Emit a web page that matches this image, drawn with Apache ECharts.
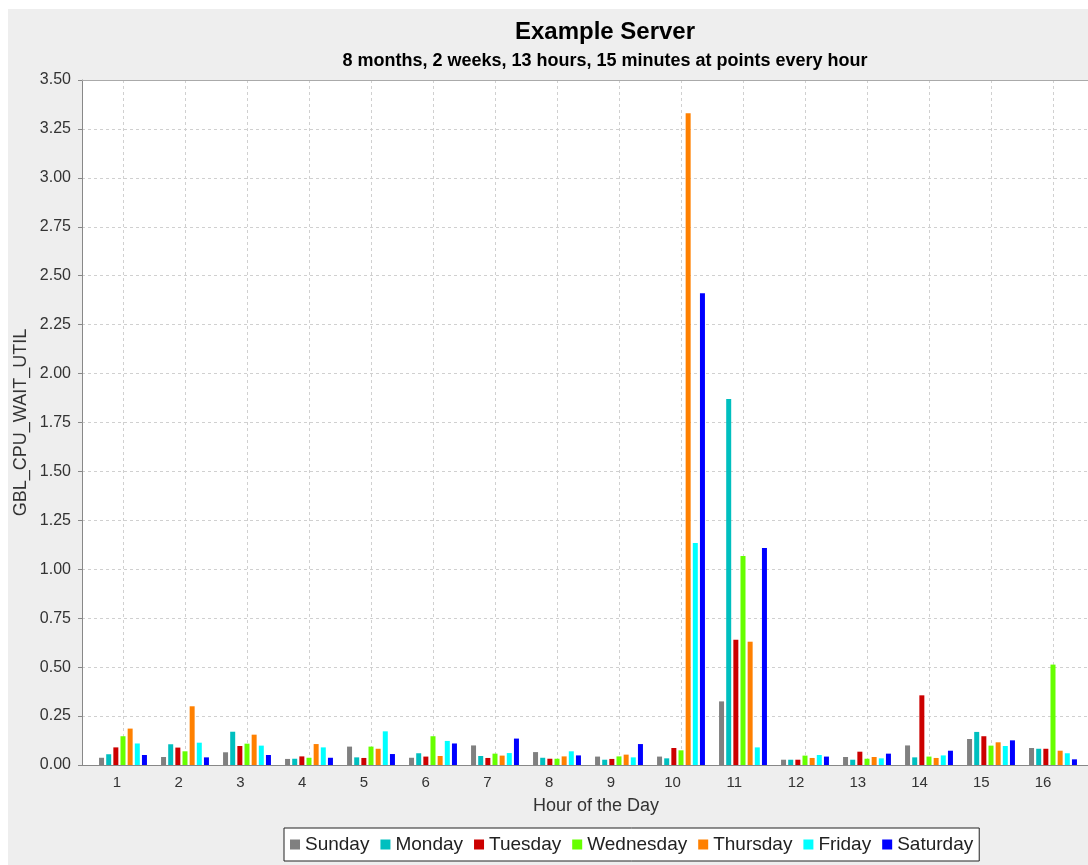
<!DOCTYPE html>
<html>
<head>
<meta charset="utf-8">
<script src="https://cdn.jsdelivr.net/npm/echarts@6/dist/echarts.min.js"></script>
<style>
  body { margin: 0; background: #fff; }
  #main { position: absolute; left: 8px; top: 9px; width: 1080px; height: 856px; background: #eeeeee; }
</style>
</head>
<body>
<div id="main"></div>
<script>
var hours = ['1', '2', '3', '4', '5', '6', '7', '8', '9', '10', '11', '12', '13', '14', '15', '16'];
var days = ['Sunday', 'Monday', 'Tuesday', 'Wednesday', 'Thursday', 'Friday', 'Saturday'];
var yTicks = [0, 3.5, 0.25];

var sunday    = [0.037, 0.041, 0.065, 0.031, 0.094, 0.037, 0.100, 0.066, 0.043, 0.043, 0.325, 0.027, 0.041, 0.100, 0.133, 0.087];
var monday    = [0.055, 0.106, 0.170, 0.032, 0.039, 0.060, 0.046, 0.037, 0.027, 0.034, 1.870, 0.027, 0.027, 0.039, 0.169, 0.083];
var tuesday   = [0.090, 0.089, 0.097, 0.044, 0.036, 0.043, 0.036, 0.032, 0.031, 0.087, 0.640, 0.027, 0.068, 0.356, 0.147, 0.083];
var wednesday = [0.147, 0.070, 0.109, 0.037, 0.094, 0.147, 0.058, 0.032, 0.044, 0.075, 1.068, 0.048, 0.032, 0.043, 0.099, 0.513];
var thursday  = [0.186, 0.300, 0.155, 0.107, 0.083, 0.046, 0.048, 0.044, 0.053, 3.330, 0.630, 0.036, 0.041, 0.036, 0.116, 0.073];
var friday    = [0.110, 0.114, 0.099, 0.090, 0.172, 0.123, 0.061, 0.070, 0.039, 1.134, 0.090, 0.051, 0.034, 0.049, 0.097, 0.060];
var saturday  = [0.051, 0.039, 0.051, 0.037, 0.056, 0.110, 0.135, 0.049, 0.107, 2.410, 1.109, 0.043, 0.058, 0.073, 0.126, 0.029];

var values = [sunday, monday, tuesday, wednesday, thursday, friday, saturday];
var colors = ['#808080', '#00BFBF', '#CC0000', '#66FF00', '#FF8000', '#00FFFF', '#0000FF'];

var font = 'Liberation Sans, Arial, sans-serif';
var myChart = echarts.init(document.getElementById('main'));

// plot box (chart coords): frame from the y axis to the right edge, bars in a slightly inset band
var frameLeft = 74, plotTop = 71, plotH = 685;
var barLeft = 84, barW = 992;
var band = barW / hours.length;
var labelLeft = 109, labelW = 926;

var series = days.map(function (d, i) {
    return {
        name: d,
        type: 'bar',
        xAxisIndex: 1,
        yAxisIndex: 1,
        data: values[i],
        barWidth: 5,
        barGap: '43%',
        itemStyle: { color: colors[i] }
    };
});

var gridLine = { show: true, lineStyle: { color: '#d0d0d0', type: [3, 3] } };
var off = { show: false };
var noBounds = { containLabel: false, outerBoundsMode: 'none' };

option = {
    animation: false,
    color: colors,
    textStyle: { fontFamily: font },
    title: [{
        text: 'Example Server',
        left: 597,
        top: 11,
        textAlign: 'center',
        padding: 0,
        textStyle: { fontSize: 24, fontWeight: 'bold', color: '#000', fontFamily: font }
    }, {
        text: '8 months, 2 weeks, 13 hours, 15 minutes at points every hour',
        left: 597,
        top: 43,
        textAlign: 'center',
        padding: 0,
        textStyle: { fontSize: 18, fontWeight: 'bold', color: '#000', fontFamily: font }
    }],
    legend: {
        data: days,
        left: 276,
        top: 819,
        itemWidth: 10,
        itemHeight: 10,
        itemGap: 11,
        padding: [7, 6],
        icon: 'rect',
        backgroundColor: '#fff',
        borderColor: '#222',
        borderWidth: 1,
        borderRadius: 0,
        textStyle: { fontSize: 19, color: '#222', fontFamily: font }
    },
    grid: [
        // frame: white plot, y axis, horizontal gridlines
        Object.assign({ left: frameLeft, top: plotTop, right: 0, height: plotH,
            show: true, backgroundColor: '#fff', borderWidth: 0 }, noBounds),
        // bars
        Object.assign({ left: barLeft, top: plotTop, width: barW, height: plotH }, noBounds),
        // vertical gridlines on category centres
        Object.assign({ left: barLeft + band / 2, top: plotTop, width: barW - band, height: plotH }, noBounds),
        // category labels + axis title
        Object.assign({ left: labelLeft, top: plotTop, width: labelW, height: plotH }, noBounds)
    ],
    xAxis: [{
        type: 'value', gridIndex: 0, min: 0, max: 1,
        axisLine: { show: true, onZero: false, lineStyle: { color: '#888', width: 1 } },
        axisTick: off, axisLabel: off, splitLine: off
    }, {
        type: 'category', gridIndex: 1, data: hours,
        axisLine: off, axisTick: off, axisLabel: off, splitLine: off
    }, {
        type: 'value', gridIndex: 2, min: 1, max: hours.length, interval: 1,
        axisLine: off, axisTick: off, axisLabel: off, splitLine: gridLine
    }, {
        type: 'value', gridIndex: 3, min: 1, max: hours.length, interval: 1,
        name: 'Hour of the Day',
        nameLocation: 'middle',
        nameGap: 32,
        nameMoveOverlap: false,
        nameTextStyle: { fontSize: 18, color: '#333', fontFamily: font, padding: [0, 0, 0, 32] },
        axisLine: off, axisTick: off, splitLine: off,
        axisLabel: {
            fontSize: 15, color: '#333', margin: 10, fontFamily: font,
            formatter: function (v) { return hours[v - 1] || ''; }
        }
    }, {
        type: 'value', gridIndex: 0, min: 0, max: 1, position: 'top',
        axisLine: { show: true, onZero: false, lineStyle: { color: '#aaa', width: 1 } },
        axisTick: off, axisLabel: off, splitLine: off
    }],
    yAxis: [{
        type: 'value',
        gridIndex: 0,
        min: yTicks[0],
        max: yTicks[1],
        interval: yTicks[2],
        name: 'GBL_CPU_WAIT_UTIL',
        nameLocation: 'middle',
        nameGap: 52,
        nameMoveOverlap: false,
        nameTextStyle: { fontSize: 18, color: '#333', fontFamily: font },
        axisLine: { show: true, lineStyle: { color: '#888' } },
        axisTick: { show: true, length: 4, lineStyle: { color: '#888' } },
        axisLabel: {
            fontSize: 16, color: '#333', margin: 11, fontFamily: font,
            formatter: function (v) { return v.toFixed(2); }
        },
        splitLine: gridLine
    }, {
        type: 'value', gridIndex: 1, min: yTicks[0], max: yTicks[1], show: false
    }, {
        type: 'value', gridIndex: 2, show: false
    }, {
        type: 'value', gridIndex: 3, show: false
    }],
    series: series
};
myChart.setOption(option);
</script>
</body>
</html>
